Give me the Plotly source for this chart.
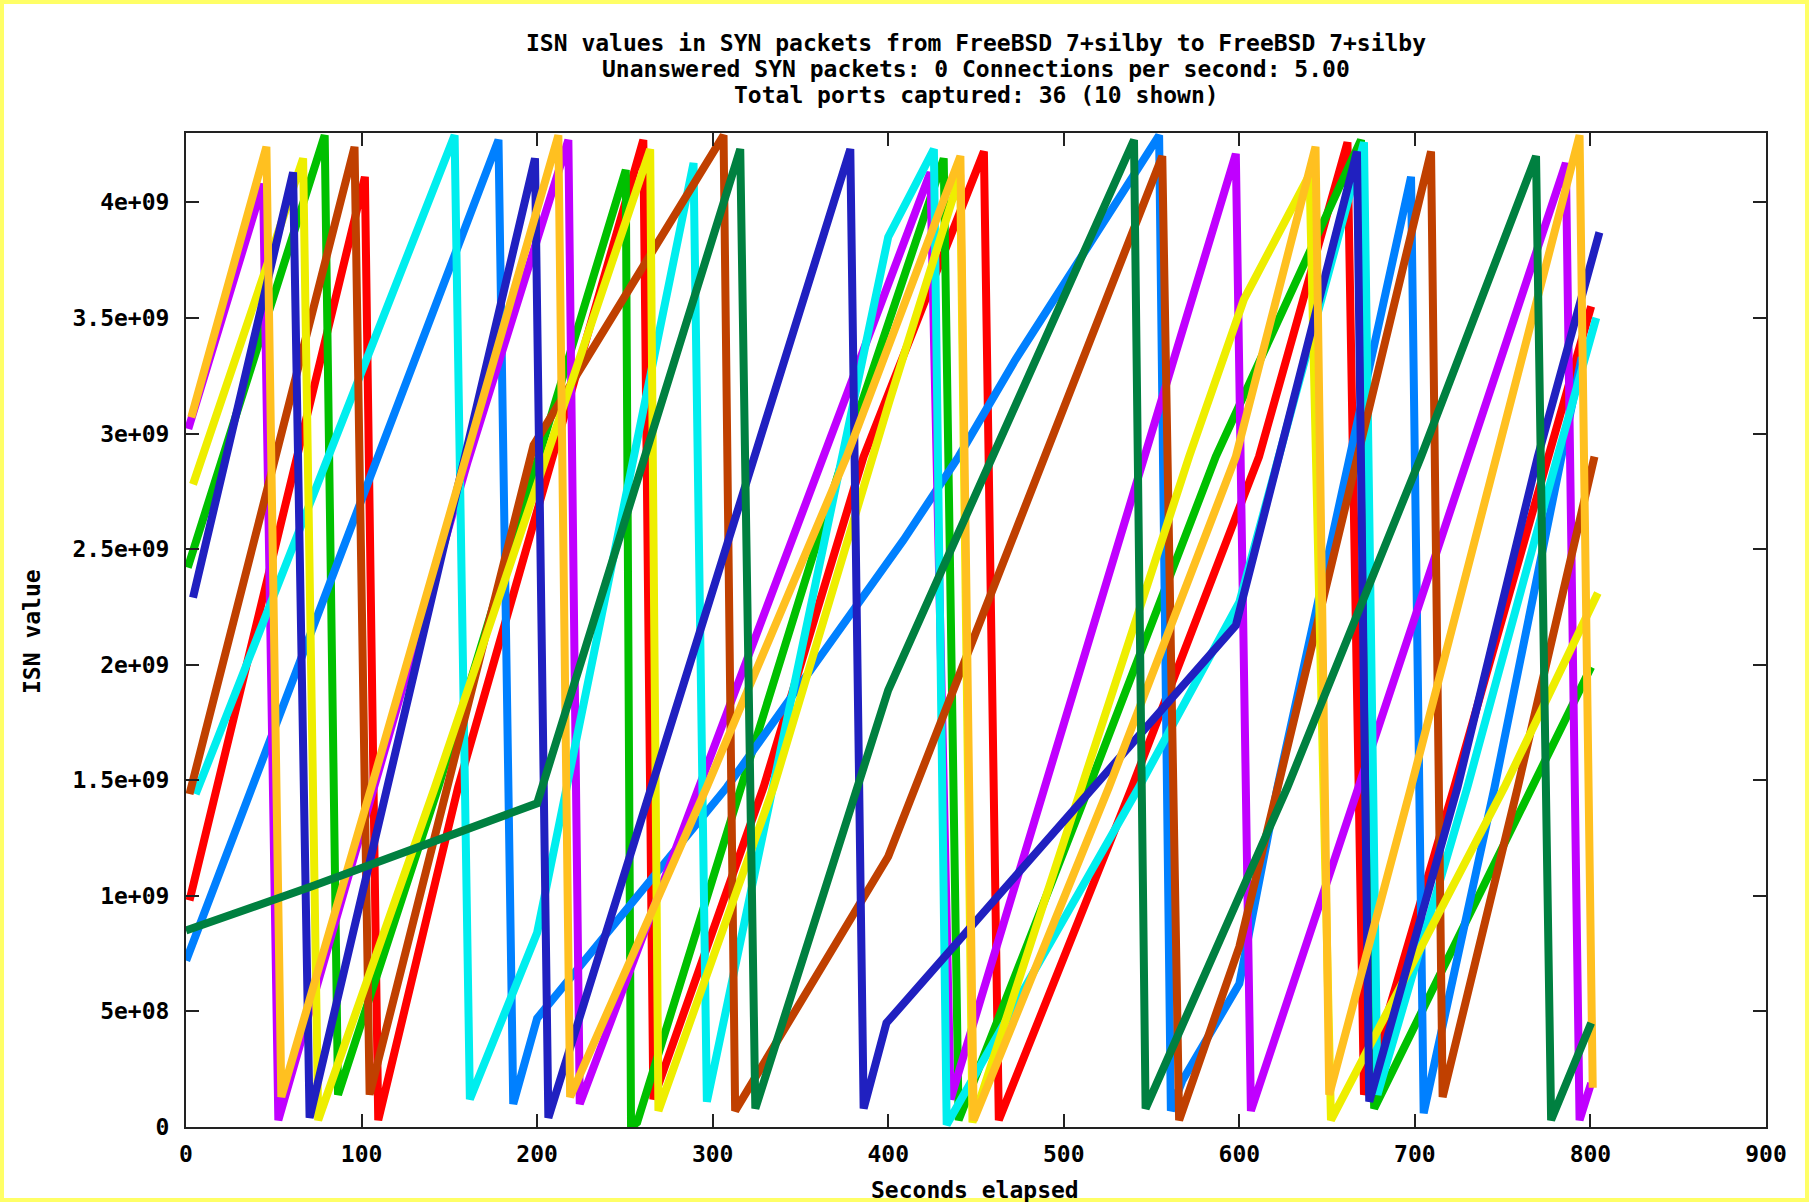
import plotly.graph_objects as go

# ---- data (x in seconds, y = ISN value) ----
red_x = [2.0, 101.9, 109.5, 155.0, 260.5, 266.2, 329.0, 386.0, 454.5, 463.0, 538.8, 611.2, 661.6, 671.0, 722.4, 775.7, 800.4]
red_y = [0.98e9, 4.11e9, 0.03e9, 1.47e9, 4.27e9, 0.12e9, 1.47e9, 2.90e9, 4.22e9, 0.03e9, 1.47e9, 2.90e9, 4.26e9, 0.14e9, 1.47e9, 2.90e9, 3.55e9]

green_x = [1.0, 79.0, 86.6, 143.7, 250.5, 253.5, 257.0, 374.6, 431.6, 440.1, 514.3, 586.6, 669.3, 676.8, 800.4]
green_y = [2.42e9, 4.29e9, 0.14e9, 1.47e9, 4.14e9, 0.0, 0.02e9, 2.90e9, 4.19e9, 0.03e9, 1.47e9, 2.90e9, 4.27e9, 0.08e9, 1.99e9]

blue_x = [0.1, 178.0, 186.4, 200.0, 308.1, 408.8, 440.1, 472.5, 533.3, 554.3, 561.0, 567.5, 600.0, 621.7, 697.8, 705.0, 745.4, 783.3, 795.0]
blue_y = [0.72e9, 4.27e9, 0.10e9, 0.47e9, 1.47e9, 2.54e9, 2.90e9, 3.32e9, 4.04e9, 4.29e9, 0.07e9, 0.20e9, 0.62e9, 1.47e9, 4.11e9, 0.06e9, 1.47e9, 2.90e9, 3.33e9]

purple_x = [1.3, 43.9, 52.6, 160.5, 217.8, 224.3, 424.0, 435.5, 598.0, 606.6, 786.0, 793.8, 800.4]
purple_y = [3.02e9, 4.08e9, 0.03e9, 2.88e9, 4.27e9, 0.10e9, 4.13e9, 0.12e9, 4.21e9, 0.07e9, 4.17e9, 0.03e9, 0.19e9]

cyan_x = [5.5, 153.0, 161.7, 200.0, 289.1, 296.7, 400.0, 426.0, 433.3, 542.8, 600.0, 671.0, 678.7, 729.9, 781.2, 803.3]
cyan_y = [1.44e9, 4.29e9, 0.12e9, 0.84e9, 4.17e9, 0.11e9, 3.85e9, 4.23e9, 0.01e9, 1.47e9, 2.27e9, 4.26e9, 0.14e9, 1.47e9, 2.90e9, 3.50e9]

brown_x = [2.0, 96.0, 104.6, 198.0, 306.2, 312.8, 400.0, 556.1, 565.7, 600.0, 709.2, 715.8, 758.6, 802.3]
brown_y = [1.44e9, 4.24e9, 0.14e9, 2.95e9, 4.29e9, 0.07e9, 1.17e9, 4.20e9, 0.03e9, 0.78e9, 4.22e9, 0.13e9, 1.47e9, 2.90e9]

yellow_x = [4.0, 66.7, 75.3, 141.8, 264.4, 269.1, 334.7, 400.3, 441.0, 448.0, 571.4, 602.6, 640.0, 652.2, 751.0, 804.2]
yellow_y = [2.78e9, 4.19e9, 0.03e9, 1.47e9, 4.23e9, 0.07e9, 1.47e9, 3.13e9, 4.12e9, 0.02e9, 2.90e9, 3.58e9, 4.12e9, 0.03e9, 1.47e9, 2.31e9]

navy_x = [4.0, 61.0, 70.4, 198.8, 206.4, 378.4, 386.0, 399.0, 598.0, 667.0, 674.0, 724.3, 770.0, 805.1]
navy_y = [2.29e9, 4.13e9, 0.04e9, 4.19e9, 0.04e9, 4.23e9, 0.08e9, 0.45e9, 2.17e9, 4.22e9, 0.11e9, 1.47e9, 2.90e9, 3.87e9]

orange_x = [3.0, 45.8, 54.3, 105.6, 212.1, 218.8, 296.6, 376.3, 441.1, 448.7, 525.7, 598.0, 643.4, 651.2, 697.8, 793.8, 801.3]
orange_y = [3.07e9, 4.24e9, 0.13e9, 1.47e9, 4.29e9, 0.13e9, 1.47e9, 2.90e9, 4.20e9, 0.03e9, 1.47e9, 2.90e9, 4.24e9, 0.14e9, 1.47e9, 4.29e9, 0.17e9]

dkgreen_x = [0.0, 71.4, 200.0, 315.7, 324.3, 400.0, 540.0, 546.6, 627.4, 703.5, 769.0, 777.6, 800.4]
dkgreen_y = [0.85e9, 1.04e9, 1.40e9, 4.23e9, 0.08e9, 1.89e9, 4.27e9, 0.08e9, 1.47e9, 2.90e9, 4.20e9, 0.03e9, 0.45e9]

x_tickvals = [0, 100, 200, 300, 400, 500, 600, 700, 800, 900]
y_tickvals = [0, 0.5e9, 1e9, 1.5e9, 2e9, 2.5e9, 3e9, 3.5e9, 4e9]
y_ticktext = ["0", "5e+08", "1e+09", "1.5e+09", "2e+09", "2.5e+09", "3e+09", "3.5e+09", "4e+09"]

title_lines = [
    "ISN values in SYN packets from FreeBSD 7+silby to FreeBSD 7+silby",
    "Unanswered SYN packets: 0 Connections per second: 5.00",
    "Total ports captured: 36 (10 shown)",
]

series = [
    (red_x, red_y, "#ff0000"),
    (green_x, green_y, "#00c000"),
    (blue_x, blue_y, "#0080ff"),
    (purple_x, purple_y, "#c000ff"),
    (cyan_x, cyan_y, "#00eeee"),
    (brown_x, brown_y, "#c04000"),
    (yellow_x, yellow_y, "#eeee00"),
    (navy_x, navy_y, "#2020c0"),
    (orange_x, orange_y, "#ffc020"),
    (dkgreen_x, dkgreen_y, "#008040"),
]

FONT = "DejaVu Sans Mono"
FS = 23
W, H = 1809, 1202
L, R, T, B = 186, 1766, 133, 1127

fig = go.Figure()
for xs, ys, col in series:
    fig.add_trace(go.Scatter(x=xs, y=ys, mode="lines",
                             line=dict(color=col, width=8),
                             showlegend=False, hoverinfo="skip"))

def px2paper_x(p):
    return (p - L) / (R - L)

def px2paper_y(p):
    return (B - p) / (B - T)

bold = dict(family=FONT, size=FS, color="black", weight="bold")

annotations = []
for txt, py in zip(title_lines, [42.7, 68.6, 94.6]):
    annotations.append(dict(text=txt, x=0.5, y=px2paper_y(py), xref="paper", yref="paper",
                            xanchor="center", yanchor="middle", showarrow=False, font=bold))
annotations.append(dict(text="Seconds elapsed", x=px2paper_x(975), y=px2paper_y(1190),
                        xref="paper", yref="paper", xanchor="center", yanchor="middle",
                        showarrow=False, font=bold))
annotations.append(dict(text="ISN value", x=px2paper_x(32), y=px2paper_y(632),
                        xref="paper", yref="paper", xanchor="center", yanchor="middle",
                        textangle=-90, showarrow=False, font=bold))

shapes = [dict(type="rect", xref="paper", yref="paper",
               x0=px2paper_x(0), x1=px2paper_x(W), y0=px2paper_y(H), y1=px2paper_y(0),
               line=dict(color="#ffff66", width=8), fillcolor="rgba(0,0,0,0)", layer="below")]

axis_common = dict(showgrid=False, zeroline=False, showline=True, linecolor="#222222", linewidth=2,
                   mirror="ticks", ticks="inside", ticklen=13, tickwidth=2, tickcolor="#222222",
                   tickfont=bold)

fig.update_layout(
    width=W, height=H,
    margin=dict(l=L, r=W - R, t=T, b=H - B, pad=0),
    paper_bgcolor="white", plot_bgcolor="white",
    xaxis=dict(range=[0, 900], tickvals=x_tickvals, ticktext=[str(v) for v in x_tickvals],
               ticklabelstandoff=5, **axis_common),
    yaxis=dict(range=[0, 4.3e9], tickvals=y_tickvals, ticktext=y_ticktext,
               ticklabelstandoff=10, **axis_common),
    annotations=annotations, shapes=shapes,
)

fig.write_html("out.html", config={"displayModeBar": False})
